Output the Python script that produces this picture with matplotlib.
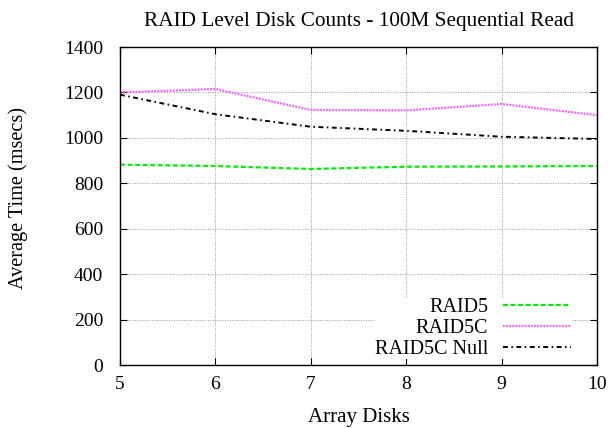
import numpy as np
import matplotlib.pyplot as plt

plt.rcParams['font.family'] = ['Liberation Serif', 'DejaVu Serif']

disks = [5, 6, 7, 8, 9, 10]
raid5 = [882, 876, 863, 873, 874, 876]
raid5c = [1200, 1215, 1123, 1121, 1149, 1100]
raid5c_null = [1190, 1104, 1049, 1031, 1005, 995]

fig = plt.figure(figsize=(6.12, 4.28), dpi=100)
ax = fig.add_axes([120/612, 1 - 365/428, 477/612, 318/428])

ax.plot(disks, raid5, color='#00ee00', lw=1.6, ls=(0, (2.2, 1.2)), label='RAID5')
ax.plot(disks, raid5c, color='#ff55ff', lw=1.6, ls=(0, (0.8, 0.6)), label='RAID5C')
ax.plot(disks, raid5c_null, color='black', lw=1.4, ls=(0, (2.5, 1.8, 0.8, 1.8)), label='RAID5C Null')

ax.set_xlim(5, 10)
ax.set_ylim(0, 1400)
ax.set_xticks(disks)
ax.set_yticks(np.arange(0, 1401, 200))
ax.grid(True, color='#999999', ls=(0, (1, 1.5)), lw=0.7)
ax.tick_params(direction='in', top=True, right=True, length=5, labelsize=14)
ax.tick_params(axis='y', pad=12)
ax.tick_params(axis='x', pad=8)
for s in ax.spines.values():
    s.set_linewidth(1.0)

ax.set_title('RAID Level Disk Counts - 100M Sequential Read', fontsize=15.3, pad=15)
ax.set_xlabel('Array Disks', fontsize=15, labelpad=11)
ax.set_ylabel('Average Time (msecs)', fontsize=14.6)
ax.yaxis.set_label_coords(-0.193, 0.525)

leg = ax.legend(loc='lower right', bbox_to_anchor=(0.9455, 0.02), markerfirst=False,
                frameon=True, fontsize=14.5, handlelength=3.4, handletextpad=0.7,
                borderpad=0.0, borderaxespad=0.0, labelspacing=0.08, fancybox=False)
leg.get_frame().set_edgecolor('none')
leg.get_frame().set_facecolor('white')
leg.get_frame().set_alpha(1.0)
for t in leg.get_texts():
    t.set_ha('right')

fig.savefig('out.png', dpi=100)
